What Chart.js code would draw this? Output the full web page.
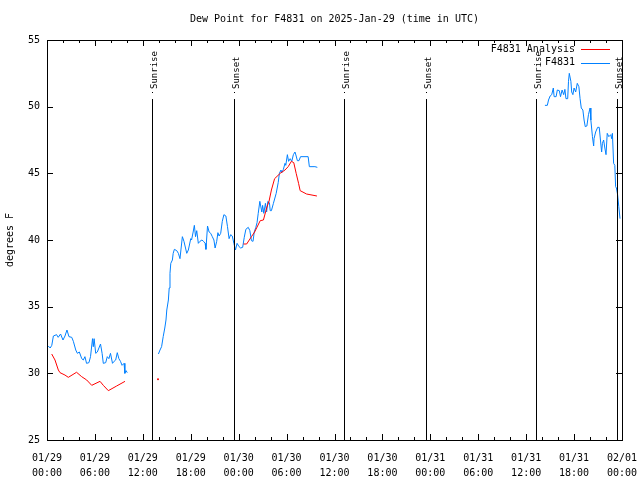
<!DOCTYPE html>
<html>
<head>
<meta charset="utf-8">
<script src="https://cdn.jsdelivr.net/npm/chart.js@4/dist/chart.umd.min.js"></script>
<style>
  html, body { margin: 0; padding: 0; background: #fff; }
  #wrap { width: 640px; height: 480px; }
</style>
</head>
<body>
<div id="wrap"><canvas id="myChart" width="640" height="480"></canvas></div>
<script>
// hours since 2025-01-29 00:00 UTC
const stationHours = [
  0.15, 0.4, 0.6, 0.8, 1.2, 1.4, 1.7, 2.0, 2.25, 2.5, 2.75, 3.1, 3.3, 3.6, 3.8, 4.05, 4.35, 4.55, 4.75, 4.95,
  5.25, 5.45, 5.7, 5.8, 5.9, 6.1, 6.3, 6.5, 6.7, 6.9, 7.05, 7.35, 7.55, 7.75, 7.95, 8.2, 8.4, 8.6, 8.8, 9.0,
  9.2, 9.4, 9.65, 9.75, 9.9, 10.05,
  12,
  13.95, 14.15, 14.35, 14.55, 14.75, 14.9, 15.0, 15.2, 15.3, 15.4, 15.5, 15.7, 15.8, 15.95, 16.25, 16.45, 16.65, 16.95, 17.15, 17.5,
  17.7, 18.0, 18.1, 18.3, 18.45, 18.6, 18.75, 18.95, 19.15, 19.4, 19.6, 19.8, 19.9, 20.1, 20.3, 20.5, 20.7, 20.9, 21.05, 21.25,
  21.4, 21.55, 21.75, 21.95, 22.15, 22.4, 22.6, 22.8, 23.0, 23.2, 23.4, 23.6, 23.8, 24.05, 24.25, 24.5, 24.7, 24.9, 25.2, 25.4,
  25.6, 25.8, 25.95, 26.15, 26.3, 26.45, 26.65, 26.9, 27.0, 27.15, 27.35, 27.5, 27.65, 27.85, 27.95, 28.1, 28.35, 28.7, 28.95, 29.1,
  29.3, 29.4, 29.6, 29.8, 29.9, 30.1, 30.25, 30.45, 30.65, 30.85, 31.05, 31.2, 31.35, 31.55, 31.75, 32.7, 32.85, 33.55, 33.85,
  45,
  62.35, 62.65, 62.8, 63.0, 63.2, 63.4, 63.5, 63.75, 63.9, 64.15, 64.3, 64.5, 64.7, 64.85, 64.98, 65.2, 65.3, 65.4, 65.6, 65.7,
  65.85, 66.0, 66.2, 66.4, 66.6, 66.75, 66.9, 67.1, 67.25, 67.4, 67.6, 67.8, 68.0, 68.1, 68.3, 68.45, 68.5, 68.7, 68.95, 69.15,
  69.3, 69.45, 69.55, 69.7, 69.85, 70.0, 70.15, 70.35, 70.6, 70.7, 70.8, 70.95, 71.1, 71.2, 71.3, 71.45, 71.6, 71.75
];
const stationValues = [
  32.05, 31.9, 32.1, 32.8, 32.9, 32.7, 32.95, 32.5, 32.8, 33.25, 32.75, 32.7, 32.4, 31.75, 31.5, 31.6, 31.1, 31.0, 31.25, 30.75,
  30.8, 31.25, 32.6, 32.0, 32.6, 31.5, 31.6, 31.9, 32.2, 31.5, 30.75, 30.8, 31.25, 31.1, 31.5, 30.75, 30.9, 31.0, 31.55, 31.1,
  30.9, 30.6, 30.75, 30.0, 30.2, 30.05,
  null,
  31.45, 31.75, 32.0, 32.75, 33.4, 34.0, 34.75, 35.5, 36.4, 37.5, 38.25, 38.5, 39.0, 39.3, 39.2, 39.0, 38.6, 40.25, 39.9, 39.0,
  39.25, 40.1, 40.0, 40.6, 41.1, 40.25, 40.7, 39.75, 39.9, 40.0, 39.9, 39.75, 39.3, 41.05, 40.6, 40.5, 40.25, 40.0, 39.4, 39.9,
  40.55, 40.3, 40.5, 41.4, 41.9, 41.8, 41.0, 40.1, 40.4, 40.3, 39.75, 39.25, 39.75, 39.5, 39.4, 39.45, 40.2, 40.8, 40.95, 40.7,
  39.95, 39.9, 40.6, 40.95, 41.3, 42.0, 42.9, 42.1, 42.6, 42.0, 42.75, 42.1, 42.9, 42.8, 42.2, 42.2, 42.75, 43.5, 44.3, 45.0,
  45.25, 45.05, 45.3, 45.75, 45.6, 46.4, 45.9, 46.1, 45.9, 46.4, 46.6, 46.3, 45.95, 45.95, 46.25, 46.25, 45.5, 45.5, 45.45,
  null,
  50.1, 50.1, 50.5, 50.8, 50.9, 51.4, 50.75, 50.75, 51.25, 51.2, 50.75, 51.25, 50.9, 51.3, 50.6, 50.6, 51.9, 52.5, 51.9, 51.1,
  50.9, 51.4, 51.1, 51.75, 51.5, 50.6, 49.9, 49.75, 49.0, 48.5, 48.55, 49.4, 49.9, 49.0, 47.75, 47.05, 47.6, 48.1, 48.45, 48.45,
  47.5, 46.6, 47.25, 47.5, 46.9, 46.4, 48.0, 47.75, 47.9, 47.6, 48.0, 45.75, 45.6, 44.0, 43.9, 43.4, 42.5, 41.6
];

const analysisHours = [
  0.59, 1.0, 1.42, 1.63, 2.25, 2.67, 3.7, 4.34, 4.97, 5.6, 6.64, 7.05, 7.68, 8.72, 9.77,
  12, 13.9, 19,
  24.6, 25.0, 25.6, 26.0, 26.7, 27.1, 27.5, 27.8, 28.1, 28.5, 29.2, 29.8, 30.2, 30.6, 30.9, 31.2, 31.5, 31.7, 32.5, 33.8
];
const analysisValues = [
  31.45, 31.0, 30.25, 30.05, 29.87, 29.7, 30.08, 29.75, 29.5, 29.1, 29.4, 29.1, 28.7, 29.05, 29.4,
  null, 29.55, null,
  39.7, 39.7, 40.25, 40.6, 41.45, 41.5, 42.4, 42.9, 43.75, 44.6, 45.0, 45.25, 45.5, 45.9, 45.8, 45.0, 44.25, 43.7, 43.45, 43.3
];

const eventHours = [13.15, 23.4, 37.2, 47.45, 61.2, 71.4];
const eventNames = ["Sunrise", "Sunset", "Sunrise", "Sunset", "Sunrise", "Sunset"];

const dateLabels = ["01/29", "01/29", "01/29", "01/29", "01/30", "01/30", "01/30", "01/30", "01/31", "01/31", "01/31", "01/31", "02/01"];
const timeLabels = ["00:00", "06:00", "12:00", "18:00", "00:00", "06:00", "12:00", "18:00", "00:00", "06:00", "12:00", "18:00", "00:00"];

const FONT = "DejaVu Sans Mono";

function toPoints(xs, ys) {
  return xs.map((x, i) => ({ x: x, y: ys[i] }));
}

// only show a dot where a point has no neighbours
function loneDot(c) {
  const d = c.dataset.data;
  const i = c.dataIndex;
  const prev = d[i - 1], next = d[i + 1];
  return (!prev || prev.y == null) && (!next || next.y == null) ? 1 : 0;
}

// gnuplot style frame, inward ticks, sun events and key
const decor = {
  id: "decor",
  afterDraw(chart) {
    const c = chart.ctx;
    const a = chart.chartArea;
    const xs = chart.scales.x, ys = chart.scales.y;
    c.save();
    c.strokeStyle = "#000";
    c.fillStyle = "#000";
    c.lineWidth = 1;
    c.strokeRect(Math.round(a.left) + 0.5, Math.round(a.top) + 0.5, Math.round(a.right - a.left), Math.round(a.bottom - a.top));

    c.beginPath();
    for (let h = 0; h <= 72; h += 2) {
      const px = Math.round(xs.getPixelForValue(h)) + 0.5;
      const len = h % 6 === 0 ? 6 : 3;
      c.moveTo(px, a.bottom); c.lineTo(px, a.bottom - len);
      c.moveTo(px, a.top); c.lineTo(px, a.top + len);
    }
    for (let v = 25; v <= 55; v += 5) {
      const py = Math.round(ys.getPixelForValue(v)) + 0.5;
      c.moveTo(a.left, py); c.lineTo(a.left + 6, py);
      c.moveTo(a.right, py); c.lineTo(a.right - 6, py);
    }
    c.stroke();

    const lineTop = Math.round(ys.getPixelForValue(50.6));
    c.font = "9px '" + FONT + "'";
    c.textAlign = "left";
    c.textBaseline = "alphabetic";
    eventHours.forEach((h, i) => {
      const px = Math.round(xs.getPixelForValue(h)) + 0.5;
      c.beginPath();
      c.moveTo(px, lineTop);
      c.lineTo(px, a.bottom);
      c.stroke();
      c.fillRect(px - 0.5, lineTop - 7, 1, 1);
      c.save();
      c.translate(px + 4.5, lineTop - 10);
      c.rotate(-Math.PI / 2);
      c.fillText(eventNames[i], 0, 0);
      c.restore();
    });

    c.font = "10px '" + FONT + "'";
    c.textAlign = "right";
    c.textBaseline = "middle";
    chart.data.datasets.forEach((ds, i) => {
      const y = a.top + 9 + i * 13.5;
      c.fillStyle = "#000";
      c.fillText(ds.label, 575, y);
      c.strokeStyle = ds.borderColor;
      c.beginPath();
      c.moveTo(581, Math.round(y) + 0.5);
      c.lineTo(610, Math.round(y) + 0.5);
      c.stroke();
    });
    c.restore();
  },
};

new Chart(document.getElementById("myChart"), {
  type: "line",
  data: {
    datasets: [
      {
        label: "F4831 Analysis",
        data: toPoints(analysisHours, analysisValues),
        borderColor: "#ff0000",
        backgroundColor: "#ff0000",
        borderWidth: 1,
        pointRadius: loneDot,
        pointBorderWidth: 0,
        tension: 0,
      },
      {
        label: "F4831",
        data: toPoints(stationHours, stationValues),
        borderColor: "#0080ff",
        backgroundColor: "#0080ff",
        borderWidth: 1,
        pointRadius: 0,
        tension: 0,
      },
    ],
  },
  options: {
    responsive: false,
    animation: false,
    events: [],
    layout: { padding: { left: 0, right: 18, top: 0, bottom: 0 } },
    plugins: {
      legend: { display: false },
      tooltip: { enabled: false },
      title: {
        display: true,
        fullSize: false,
        text: "Dew Point for F4831 on 2025-Jan-29 (time in UTC)",
        color: "#000",
        font: { family: FONT, size: 10, weight: "normal", lineHeight: 1.2 },
        padding: { top: 13, bottom: 15 },
      },
    },
    scales: {
      x: {
        type: "linear",
        min: 0,
        max: 72,
        grid: { display: false, drawTicks: false },
        border: { display: false },
        afterFit: (s) => {
          s.height = 40;
          s.paddingLeft = 0;
          s.paddingRight = 0;
        },
        ticks: {
          stepSize: 6,
          autoSkip: false,
          maxRotation: 0,
          padding: 11,
          color: "#000",
          font: { family: FONT, size: 10, lineHeight: 1.5 },
          callback: (v) => [dateLabels[v / 6], timeLabels[v / 6]],
        },
      },
      y: {
        min: 25,
        max: 55,
        grid: { display: false, drawTicks: false },
        border: { display: false },
        afterFit: (s) => {
          s.width = 47;
          s.paddingTop = 0;
          s.paddingBottom = 0;
        },
        title: {
          display: true,
          text: "degrees F",
          color: "#000",
          font: { family: FONT, size: 10, lineHeight: 1.2 },
          padding: { top: 4, bottom: 0 },
        },
        ticks: {
          stepSize: 5,
          padding: 7,
          color: "#000",
          font: { family: FONT, size: 10 },
        },
      },
    },
  },
  plugins: [decor],
});
</script>
</body>
</html>
